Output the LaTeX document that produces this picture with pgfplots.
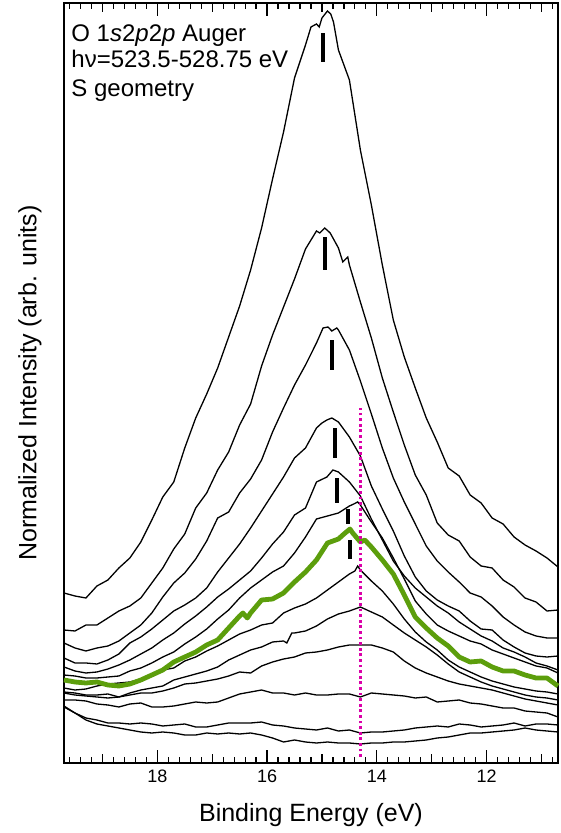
\documentclass[border=0pt]{standalone}
\usepackage{pgfplots}
\pgfplotsset{compat=1.18}
\usepackage{fontspec}
\setmainfont{Liberation Sans}
\definecolor{specgreen}{RGB}{92,158,12}
\definecolor{edgemag}{RGB}{218,0,168}

\begin{document}
\begin{tikzpicture}
\begin{axis}[
  name=ax,
  width=247pt, height=380pt, scale only axis,
  x dir=reverse,
  xmin=10.7, xmax=19.7,
  ymin=0, ymax=760,
  ytick=\empty,
  xtick={12,14,16,18},
  extra x ticks={11,13,15,17,19},
  extra x tick labels={},
  extra x tick style={major tick length=4.5pt},
  minor xtick={10.8,11.0,...,19.6},
  tick align=inside,
  major tick length=6.5pt,
  minor tick length=3pt,
  tick style={black, line width=0.6pt},
  axis line style={line width=0.7pt},
  /pgf/number format/assume math mode=true,
  xticklabel style={font=\fontsize{9}{10}\selectfont},
  xlabel={Binding Energy (eV)},
  ylabel={Normalized Intensity (arb. units)},
  every axis x label/.style={at={(axis description cs:0.5,-0.0776)}, anchor=base},
  every axis y label/.style={at={(axis description cs:-0.069,0.5)}, rotate=90, anchor=center},
  label style={font=\fontsize{12.5}{14}\selectfont},
  every axis plot/.append style={mark=none},
  clip=false,
]
% spectra, highest resonance first
\addplot[black, line width=0.65pt] coordinates {
(19.7,170)(19.5,167)(19.3,165)(19.1,177)(18.9,183)(18.7,195)(18.5,205)(18.3,221)(18.1,243)(17.9,266)(17.7,281)(17.5,315)(17.3,345)(17.1,369)(16.9,395)(16.7,426)(16.5,457)(16.3,493)(16.1,535)(15.9,584)(15.7,631)(15.5,685)(15.3,718)(15.2,736)(15.1,739)(15.05,736)(15.0,745)(14.9,752)(14.84,749)(14.79,741)(14.7,713)(14.6,698)(14.5,683)(14.4,648)(14.3,613)(14.1,558)(13.9,498)(13.7,443)(13.5,406)(13.3,375)(13.1,345)(12.9,321)(12.7,295)(12.5,287)(12.3,268)(12.1,260)(11.9,245)(11.7,239)(11.5,226)(11.3,218)(11.1,212)(10.9,205)(10.7,196)};
\addplot[black, line width=0.65pt] coordinates {
(19.7,133)(19.5,132)(19.3,138)(19.1,138)(18.9,145)(18.7,152)(18.5,157)(18.3,165)(18.1,180)(17.9,195)(17.7,214)(17.5,229)(17.3,255)(17.1,270)(16.9,293)(16.7,311)(16.5,338)(16.3,359)(16.1,397)(15.9,428)(15.7,456)(15.5,484)(15.3,514)(15.1,532)(15.04,530)(14.95,535)(14.85,530)(14.7,515)(14.62,501)(14.53,506)(14.5,498)(14.3,461)(14.1,425)(13.9,385)(13.7,351)(13.5,318)(13.3,288)(13.1,268)(12.9,240)(12.7,228)(12.5,222)(12.3,206)(12.1,197)(11.9,195)(11.7,183)(11.5,176)(11.3,165)(11.1,161)(10.9,152)(10.7,153)};
\addplot[black, line width=0.65pt] coordinates {
(19.7,120)(19.5,115)(19.3,112)(19.1,115)(18.9,117)(18.7,122)(18.5,130)(18.3,138)(18.1,150)(17.9,166)(17.7,180)(17.5,190)(17.3,204)(17.1,222)(16.9,245)(16.7,251)(16.5,270)(16.3,284)(16.1,303)(15.9,331)(15.7,355)(15.5,378)(15.3,398)(15.1,420)(14.98,435)(14.89,436)(14.82,432)(14.73,435)(14.7,433)(14.5,413)(14.3,382)(14.1,349)(13.9,315)(13.7,285)(13.5,261)(13.3,239)(13.1,217)(12.9,202)(12.7,191)(12.5,181)(12.3,170)(12.1,166)(11.9,157)(11.7,146)(11.5,138)(11.3,131)(11.1,127)(10.9,125)(10.7,125)};
\addplot[black, line width=0.65pt] coordinates {
(19.7,105)(19.5,100)(19.3,100)(19.1,99)(18.9,103)(18.7,109)(18.5,120)(18.3,126)(18.1,134)(17.9,143)(17.7,152)(17.5,158)(17.3,165)(17.1,175)(16.9,191)(16.7,205)(16.5,219)(16.3,235)(16.1,252)(15.9,269)(15.7,286)(15.5,305)(15.3,315)(15.1,335)(15.0,340)(14.91,343)(14.82,345)(14.7,341)(14.5,326)(14.3,307)(14.1,277)(13.9,254)(13.7,232)(13.5,207)(13.3,186)(13.1,172)(12.9,163)(12.7,157)(12.5,152)(12.3,142)(12.1,134)(11.9,133)(11.7,123)(11.5,116)(11.3,110)(11.1,107)(10.9,106)(10.7,107)};
\addplot[black, line width=0.65pt] coordinates {
(19.7,96)(19.5,92)(19.3,90)(19.1,91)(18.9,94)(18.7,98)(18.5,103)(18.3,109)(18.1,115)(17.9,123)(17.7,130)(17.5,139)(17.3,147)(17.1,156)(16.9,166)(16.7,174)(16.5,183)(16.3,192)(16.1,205)(15.9,219)(15.7,231)(15.5,248)(15.3,255)(15.1,281)(14.91,286)(14.8,293)(14.7,291)(14.5,281)(14.3,267)(14.1,244)(13.9,223)(13.7,202)(13.5,187)(13.3,175)(13.1,166)(12.9,157)(12.7,150)(12.5,141)(12.3,134)(12.1,127)(11.9,122)(11.7,115)(11.5,111)(11.3,106)(11.1,100)(10.9,97)(10.7,93)};
\addplot[black, line width=0.65pt] coordinates {
(19.7,88)(19.5,87)(19.3,85)(19.1,85)(18.9,86)(18.7,87)(18.5,92)(18.3,95)(18.1,100)(17.9,106)(17.7,111)(17.5,119)(17.3,126)(17.1,134)(16.9,144)(16.7,153)(16.5,165)(16.3,175)(16.1,183)(15.9,191)(15.7,197)(15.5,210)(15.3,226)(15.1,244)(14.9,247)(14.7,250)(14.5,257)(14.42,259)(14.35,261)(14.3,258)(14.1,241)(13.9,225)(13.7,205)(13.5,184)(13.3,162)(13.1,149)(12.9,138)(12.7,132)(12.5,127)(12.3,122)(12.1,119)(11.9,113)(11.7,109)(11.5,105)(11.3,101)(11.1,97)(10.9,95)(10.7,90)};
\addplot[black, line width=0.65pt] coordinates {
(19.7,75)(19.5,73)(19.3,74)(19.1,77)(18.9,79)(18.7,80)(18.5,81)(18.3,84)(18.1,88)(17.9,93)(17.7,95)(17.5,102)(17.3,106)(17.1,112)(16.9,117)(16.7,123)(16.5,129)(16.3,133)(16.1,138)(15.9,140)(15.7,150)(15.5,155)(15.3,159)(15.1,165)(14.9,173)(14.7,181)(14.5,189)(14.4,192)(14.35,197)(14.3,193)(14.1,182)(13.9,172)(13.7,159)(13.5,144)(13.3,131)(13.1,121)(12.9,113)(12.7,103)(12.5,96)(12.3,91)(12.1,86)(11.9,82)(11.7,79)(11.5,76)(11.3,74)(11.1,72)(10.9,71)(10.7,69)};
\addplot[black, line width=0.65pt] coordinates {
(19.7,71)(19.5,70)(19.3,68)(19.1,68)(18.9,69)(18.7,66)(18.5,70)(18.3,73)(18.1,75)(17.9,77)(17.7,83)(17.5,86)(17.3,89)(17.1,92)(16.9,96)(16.7,103)(16.5,108)(16.3,113)(16.1,116)(15.9,121)(15.7,122)(15.64,120)(15.55,130)(15.5,130)(15.3,132)(15.1,137)(14.9,144)(14.7,149)(14.5,152)(14.3,156)(14.1,151)(13.9,146)(13.7,138)(13.5,130)(13.3,123)(13.1,116)(12.9,108)(12.7,99)(12.5,91)(12.3,86)(12.1,81)(11.9,77)(11.7,74)(11.5,71)(11.3,68)(11.1,66)(10.9,65)(10.7,63)};
\addplot[black, line width=0.65pt] coordinates {
(19.7,70)(19.5,68)(19.3,67)(19.1,66)(18.9,65)(18.7,66)(18.5,68)(18.3,70)(18.1,70)(17.9,72)(17.7,75)(17.5,79)(17.3,80)(17.1,82)(16.9,84)(16.7,87)(16.5,91)(16.3,90)(16.1,97)(15.9,101)(15.7,104)(15.5,106)(15.3,110)(15.1,111)(14.9,113)(14.7,116)(14.5,118)(14.3,118)(14.1,118)(13.9,115)(13.7,111)(13.5,102)(13.3,95)(13.1,90)(12.9,86)(12.7,82)(12.5,79)(12.3,77)(12.1,75)(11.9,73)(11.7,70)(11.5,67)(11.3,64)(11.1,62)(10.9,60)(10.7,58)};
\addplot[black, line width=0.65pt] coordinates {
(19.7,63)(19.5,63)(19.3,62)(19.1,59)(18.9,58)(18.7,56)(18.5,59)(18.3,60)(18.1,56)(17.9,56)(17.7,57)(17.5,59)(17.3,61)(17.1,60)(16.9,61)(16.7,65)(16.5,69)(16.3,71)(16.1,73)(15.9,70)(15.7,70)(15.5,68)(15.3,70)(15.1,68)(14.9,68)(14.7,69)(14.5,69)(14.3,66)(14.1,70)(13.9,69)(13.7,68)(13.5,67)(13.3,65)(13.1,66)(12.9,61)(12.7,62)(12.5,63)(12.3,60)(12.1,59)(11.9,57)(11.7,55)(11.5,55)(11.3,52)(11.1,51)(10.9,50)(10.7,46)};
\addplot[black, line width=0.65pt] coordinates {
(19.7,56)(19.5,50)(19.3,45)(19.1,43)(18.9,40)(18.7,40)(18.5,39)(18.3,40)(18.1,39)(17.9,37)(17.7,38)(17.5,39)(17.3,36)(17.1,36)(16.9,38)(16.7,40)(16.5,40)(16.3,40)(16.1,41)(15.9,38)(15.7,37)(15.5,35)(15.3,34)(15.1,33)(14.9,35)(14.7,32)(14.5,33)(14.3,30)(14.1,31)(13.9,31)(13.7,32)(13.5,33)(13.3,35)(13.1,36)(12.9,37)(12.7,36)(12.5,39)(12.3,38)(12.1,36)(11.9,37)(11.7,38)(11.5,40)(11.3,37)(11.1,39)(10.9,39)(10.7,38)};
\addplot[black, line width=0.65pt] coordinates {
(19.7,57)(19.5,50)(19.3,43)(19.1,39)(18.9,37)(18.7,35)(18.5,33)(18.3,31)(18.1,30)(17.9,31)(17.7,30)(17.5,28)(17.3,28)(17.1,30)(16.9,29)(16.7,30)(16.5,29)(16.3,30)(16.1,28)(15.9,25)(15.7,21)(15.5,23)(15.3,21)(15.1,20)(14.9,21)(14.7,20)(14.5,20)(14.3,19)(14.1,20)(13.9,20)(13.7,21)(13.5,21)(13.3,22)(13.1,23)(12.9,25)(12.7,26)(12.5,28)(12.3,30)(12.1,30)(11.9,31)(11.7,32)(11.5,33)(11.3,35)(11.1,33)(10.9,32)(10.7,31)};
% highlighted spectrum
\addplot[specgreen, line width=2.4pt, line join=round] coordinates {
(19.7,83)(19.5,81)(19.3,80)(19.1,81)(18.9,78)(18.7,77)(18.5,79)(18.3,83)(18.1,88)(17.9,93)(17.7,101)(17.5,106)(17.3,111)(17.1,118)(16.9,123)(16.7,135)(16.5,147)(16.44,150)(16.36,145)(16.3,150)(16.1,163)(15.9,164)(15.7,170)(15.5,181)(15.3,191)(15.1,203)(14.9,220)(14.7,224)(14.62,228)(14.49,234)(14.44,230)(14.3,221)(14.22,223)(14.1,216)(13.9,203)(13.7,189)(13.5,168)(13.3,146)(13.1,135)(12.9,125)(12.7,117)(12.5,106)(12.3,101)(12.1,102)(11.9,96)(11.7,92)(11.5,92)(11.3,88)(11.1,85)(10.9,85)(10.7,77)};
% reference energy
\addplot[edgemag, line width=1.4pt, dash pattern=on 1.4pt off 1.4pt] coordinates {(14.3,6)(14.3,355)};
% peak positions
\addplot[black, line width=2pt] coordinates {(14.98,701)(14.98,730)};
\addplot[black, line width=2pt] coordinates {(14.95,493)(14.95,526)};
\addplot[black, line width=2pt] coordinates {(14.82,393)(14.82,423)};
\addplot[black, line width=2pt] coordinates {(14.76,305)(14.76,335)};
\addplot[black, line width=2pt] coordinates {(14.73,260)(14.73,285)};
\addplot[black, line width=2pt] coordinates {(14.53,239)(14.53,254)};
\addplot[black, line width=2pt] coordinates {(14.49,204)(14.49,223)};
\node[anchor=base west, inner sep=0pt, font=\fontsize{12}{14}\selectfont] at (axis description cs:0.0142,0.9487) {O 1\textit{s}2\textit{p}2\textit{p} Auger};
\node[anchor=base west, inner sep=0pt, font=\fontsize{12}{14}\selectfont] at (axis description cs:0.0142,0.9145) {hν=523.5-528.75 eV};
\node[anchor=base west, inner sep=0pt, font=\fontsize{12}{14}\selectfont] at (axis description cs:0.0142,0.8763) {S geometry};
\end{axis}
\pgfresetboundingbox
\path[use as bounding box] ([xshift=-32pt,yshift=-35pt]ax.south west) rectangle ([xshift=1.5pt,yshift=1.5pt]ax.north east);
\end{tikzpicture}
\end{document}
